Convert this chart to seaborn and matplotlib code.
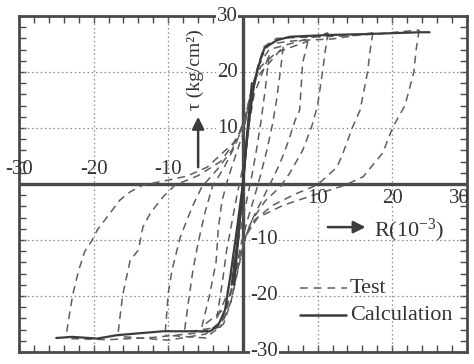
import numpy as np
import pandas as pd
import seaborn as sns
import matplotlib.pyplot as plt
plt.switch_backend('Agg')

# calculation (solid) skeleton
calc_x = [-25.0, -22.9, -19.5, -16.9, -10.7, -4.4, -3.3, -2.4, -1.7, -0.8, 0.0, 0.4, 0.9, 1.6, 2.3, 2.9, 4.6, 6.3, 11.2, 17.0, 23.7, 25.0]
calc_y = [-27.5, -27.3, -27.6, -27.0, -26.3, -26.3, -25.2, -22.5, -16.6, -8.0, 0.0, 6.0, 13.2, 18.6, 22.0, 24.3, 25.7, 26.3, 26.6, 26.8, 27.1, 27.1]
calc_in_x = [1.2, 0.7, 0.2, -0.3, -0.9, -1.5]
calc_in_y = [18.0, 11.0, 3.0, -5.0, -12.0, -18.0]
calc_in2_x = [-1.2, -0.7, -0.2, 0.3, 0.9, 1.5]
calc_in2_y = [-18.0, -11.0, -3.0, 5.0, 12.0, 18.0]

# test (dashed) branches: unloading from positive peaks
down1_x = [23.6, 23.2, 22.9, 21.7, 20.1, 18.7, 16.1, 13.7, 11.6, 9.4, 5.4, 2.0, 0.5, -0.3, -1.2, -2.2, -3.0, -6.0, -12.0, -18.0, -23.6]
down1_y = [27.5, 24.0, 20.0, 14.0, 10.2, 5.5, 1.3, -0.2, -1.1, -2.0, -3.8, -6.0, -9.0, -12.0, -17.0, -22.0, -25.5, -26.6, -27.4, -27.8, -27.6]
down2_x = [17.4, 17.0, 16.7, 15.7, 14.7, 13.4, 12.6, 10.7, 9.9, 7.0, 4.0, 1.5, 0.3, -0.5, -1.5, -2.5, -5.0, -10.0, -16.7]
down2_y = [27.0, 23.5, 20.0, 13.2, 10.2, 5.5, 3.0, 0.7, -0.2, -1.8, -3.8, -6.5, -9.5, -13.0, -19.0, -24.0, -26.8, -27.9, -27.2]
down3_x = [11.4, 11.0, 10.7, 10.0, 9.2, 8.0, 6.3, 5.0, 3.0, 1.2, 0.2, -0.6, -1.6, -2.6, -5.0, -10.4]
down3_y = [27.0, 23.5, 20.4, 14.0, 10.2, 6.0, 2.0, -0.5, -3.0, -6.5, -10.0, -15.0, -21.0, -25.0, -27.5, -27.0]
down4_x = [8.7, 8.0, 7.6, 7.0, 6.0, 5.0, 3.9, 2.5, 1.0, 0.0, -0.8, -1.6, -3.0, -7.8]
down4_y = [25.5, 21.6, 13.2, 11.4, 7.3, 3.8, 0.7, -3.0, -7.0, -11.0, -16.0, -21.0, -25.5, -26.5]
down5_x = [5.4, 5.0, 4.5, 4.0, 3.2, 2.3, 1.5, 0.6, -0.3, -1.0, -2.2, -5.5]
down5_y = [24.5, 20.0, 15.0, 10.9, 6.0, 1.3, -2.5, -6.5, -11.0, -16.0, -22.0, -25.5]
down6_x = [3.5, 3.0, 2.4, 1.8, 1.2, 0.5, -0.3, -1.2, -2.2, -3.5]
down6_y = [23.0, 17.0, 11.0, 6.0, 1.5, -3.0, -8.0, -14.0, -20.0, -24.0]

# test (dashed) branches: reloading from negative peaks
up1_x = [-23.6, -23.2, -22.8, -22.0, -21.2, -20.2, -19.5, -18.2, -16.5, -15.1, -13.4, -10.0, -7.5, -4.8, -1.3, 0.0, 0.8, 1.8, 2.8, 4.5, 8.0, 13.0, 18.0, 23.6]
up1_y = [-26.4, -23.0, -19.8, -15.4, -12.1, -10.0, -8.2, -5.9, -2.9, -1.4, -0.2, 0.7, 1.4, 3.0, 7.3, 10.0, 14.0, 20.0, 24.5, 26.0, 26.2, 26.4, 26.8, 27.5]
up2_x = [-16.7, -16.4, -16.1, -15.1, -14.0, -13.4, -12.4, -10.7, -9.1, -6.0, -3.0, -0.8, 0.3, 1.2, 2.2, 3.5, 7.0, 12.0, 17.4]
up2_y = [-26.4, -23.0, -19.8, -13.6, -11.8, -7.7, -5.2, -2.3, -0.2, 1.5, 4.0, 8.0, 12.0, 17.0, 22.0, 25.0, 25.6, 25.9, 27.0]
up3_x = [-10.4, -10.0, -9.5, -8.4, -6.8, -5.5, -3.5, -1.5, 0.0, 1.0, 2.0, 3.5, 7.0, 11.4]
up3_y = [-26.4, -19.5, -15.4, -9.5, -4.1, -0.5, 2.5, 6.0, 10.0, 15.0, 21.0, 24.0, 25.3, 27.0]
up4_x = [-7.8, -7.3, -6.7, -6.0, -5.1, -4.1, -2.5, -1.0, 0.3, 1.2, 2.4, 4.5, 8.7]
up4_y = [-26.0, -21.0, -15.4, -10.5, -5.2, -0.5, 3.0, 7.0, 12.0, 17.0, 21.0, 23.5, 25.5]
up5_x = [-5.5, -4.5, -3.6, -3.3, -2.8, -2.0, -1.0, 0.0, 0.8, 1.8, 5.4]
up5_y = [-25.5, -20.0, -14.0, -8.0, -3.0, 1.0, 5.0, 9.0, 14.0, 19.0, 24.5]
up6_x = [-3.5, -2.8, -2.2, -1.5, -0.8, 0.0, 0.6, 1.5, 3.5]
up6_y = [-24.0, -18.0, -12.0, -7.0, -2.0, 3.0, 9.0, 16.0, 23.0]

grid_vals = [-20, -10, 10, 20]
x_labels_left = [-30, -20, -10]
x_labels_right = [10, 20, 30]
y_labels_top = [30, 20, 10]
y_labels_bottom = [-10, -20, -30]

test_sets = [(down1_x, down1_y), (down2_x, down2_y), (down3_x, down3_y), (down4_x, down4_y),
             (down5_x, down5_y), (down6_x, down6_y), (up1_x, up1_y), (up2_x, up2_y),
             (up3_x, up3_y), (up4_x, up4_y), (up5_x, up5_y), (up6_x, up6_y)]
test_df = pd.concat([pd.DataFrame({"R": bx, "tau": by, "branch": i})
                     for i, (bx, by) in enumerate(test_sets)], ignore_index=True)
calc_sets = [(calc_x, calc_y), (calc_in_x, calc_in_y), (calc_in2_x, calc_in2_y)]
calc_df = pd.concat([pd.DataFrame({"R": bx, "tau": by, "branch": i})
                     for i, (bx, by) in enumerate(calc_sets)], ignore_index=True)

sns.set_style("white")
plt.rcParams['font.family'] = ['Liberation Serif', 'DejaVu Serif']
plt.rcParams['mathtext.fontset'] = 'custom'
plt.rcParams['mathtext.rm'] = 'Liberation Serif'
plt.rcParams['mathtext.it'] = 'Liberation Serif:italic'
ink = "#4a4a4a"
txt = "#333333"

fig = plt.figure(figsize=(4.74, 3.64), dpi=100)
ax = fig.add_axes([0.040, 0.033, 0.945, 0.923])
ax.set_xlim(-30, 30)
ax.set_ylim(-30, 30)

for g in grid_vals:
    ax.axvline(g, color="#8a8a8a", lw=0.9, ls=(0, (1.2, 2.2)), zorder=1)
    ax.axhline(g, color="#8a8a8a", lw=0.9, ls=(0, (1.2, 2.2)), zorder=1)
ax.axhline(0, color=ink, lw=2.4, zorder=2)
ax.axvline(0, color=ink, lw=2.4, zorder=2)

n_before = len(ax.get_lines())
sns.lineplot(data=test_df, x="R", y="tau", units="branch", estimator=None, sort=False,
             color="#5e5e5e", lw=1.1, ax=ax, zorder=3)
for line in ax.get_lines()[n_before:]:
    line.set_linestyle((0, (5, 3.5)))
sns.lineplot(data=calc_df, x="R", y="tau", units="branch", estimator=None, sort=False,
             color="#3c3c3c", lw=1.6, ax=ax, zorder=4)

for sp in ax.spines.values():
    sp.set_visible(True)
    sp.set_color(ink)
    sp.set_linewidth(2.0)
ticks = np.arange(-30, 31, 2)
ax.set_xticks(ticks)
ax.set_yticks(ticks)
ax.set_xticklabels([])
ax.set_yticklabels([])
ax.tick_params(direction="in", length=5, width=1.0, color=ink, top=True, right=True,
               bottom=True, left=True)
ax.set_xlabel("")
ax.set_ylabel("")

fs = 15
for v in x_labels_left:
    ax.text(v, 2.6, f"{v}", ha="center", va="center", fontsize=fs, color=txt)
for v in x_labels_right:
    xv = min(v, 29.0)
    ax.text(xv, -2.6, f"{v}", ha="center", va="center", fontsize=fs, color=txt)
for v in y_labels_top:
    ax.text(-0.7, v, f"{v}", ha="right", va="center", fontsize=fs, color=txt,
            bbox=dict(fc="white", ec="none", pad=0.5))
for v in y_labels_bottom:
    ax.text(1.0, v, f"{v}", ha="left", va="center", fontsize=fs, color=txt,
            bbox=dict(fc="white", ec="none", pad=0.5))

ax.text(-6.4, 13.2, "τ (kg/cm²)", rotation=90, ha="center", va="bottom",
        fontsize=14, color=txt)
ax.annotate("", xy=(-6.0, 12.5), xytext=(-6.0, 2.5),
            arrowprops=dict(arrowstyle="-|>", color="#3c3c3c", lw=1.8, mutation_scale=18))
ax.annotate("", xy=(16.8, -7.7), xytext=(11.0, -7.7),
            arrowprops=dict(arrowstyle="-|>", color="#3c3c3c", lw=1.8, mutation_scale=18))
ax.text(17.6, -8.2, r"R(10$^{-3}$)", ha="left", va="center", fontsize=fs + 1, color=txt)

# legend drawn by hand, as in the figure
ax.plot([7.6, 14.0], [-18.6, -18.6], color="#5e5e5e", lw=1.1, ls=(0, (5, 4)))
ax.text(14.3, -18.6, "Test", ha="left", va="center", fontsize=fs + 1, color=txt)
ax.plot([7.6, 13.8], [-23.4, -23.4], color="#3c3c3c", lw=1.8)
ax.text(14.3, -23.4, "Calculation", ha="left", va="center", fontsize=fs + 1, color=txt)

fig.savefig("out.png", dpi=100, facecolor="white")
plt.close(fig)
